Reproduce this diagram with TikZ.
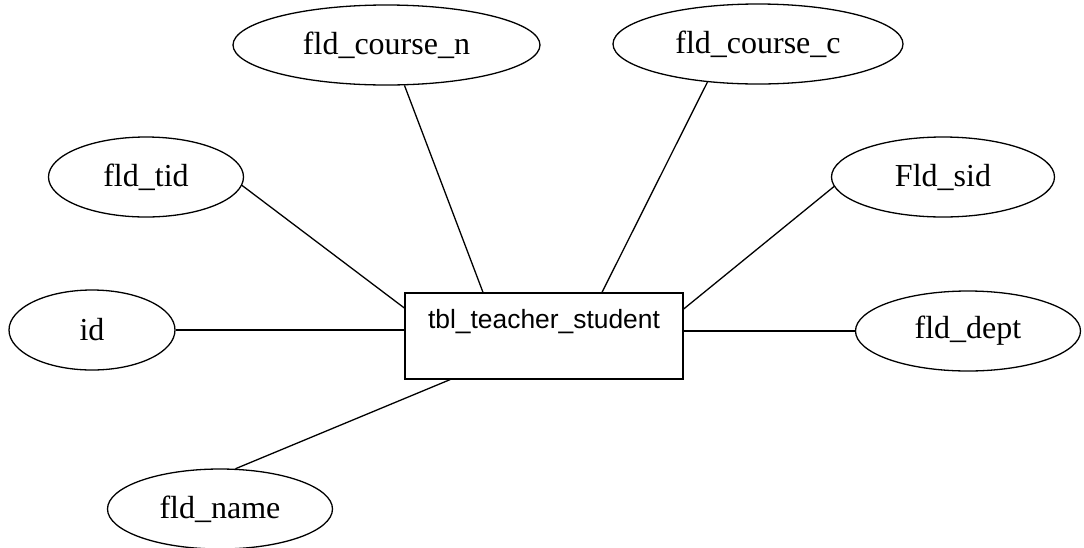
\documentclass[tikz,border=0pt]{standalone}
\usepackage{fontspec}
\setmainfont{Liberation Serif}
\newfontfamily\labelsans{Liberation Sans}
\usetikzlibrary{shapes.geometric}

\tikzset{
  attr/.style={draw, ellipse, line width=1.3pt, inner sep=0pt,
    minimum height=80pt, font=\fontsize{32}{36}\selectfont},
  entity/.style={draw, rectangle, line width=1.3pt, inner sep=0pt,
    minimum width=278pt, minimum height=86pt},
  link/.style={line width=1.3pt}
}

\begin{document}
\begin{tikzpicture}[x=1pt, y=-1pt]
  \useasboundingbox (0,0) rectangle (1084,547);

  % central table
  \node[entity] (tbl) at (544,336) {};
  \node[anchor=base, font=\labelsans\fontsize{26.4}{30}\selectfont]
    (tbllabel) at (544,328) {tbl\_teacher\_student};

  % attributes
  \node[attr, minimum width=307pt] (coursen) at (386.5,45) {fld\_course\_n};
  \node[attr, minimum width=290pt] (coursec) at (758,44) {fld\_course\_c};
  \node[attr, minimum width=195pt] (tid) at (146,177) {fld\_tid};
  \node[attr, minimum width=223pt] (sid) at (943,177) {Fld\_sid};
  \node[attr, minimum width=166pt] (id) at (92,330) {id};
  \node[attr, minimum width=225pt] (dept) at (968,331) {fld\_dept};
  \node[attr, minimum width=225pt] (name) at (220,509) {fld\_name};

  % connectors
  \draw[link] (tid.-5) -- ([yshift=28pt]tbl.west);
  \draw[link] (id.east) -- (id.east -| tbl.west);
  \draw[link] (name.69) -- ([xshift=-94pt]tbl.south);
  \draw[link] (coursen.-66) -- ([xshift=-61pt]tbl.north);
  \draw[link] (coursec.217) -- ([xshift=58pt]tbl.north);
  \draw[link] (sid.185) -- ([yshift=27pt]tbl.east);
  \draw[link] (dept.west -| tbl.east) -- (dept.west);
\end{tikzpicture}
\end{document}
